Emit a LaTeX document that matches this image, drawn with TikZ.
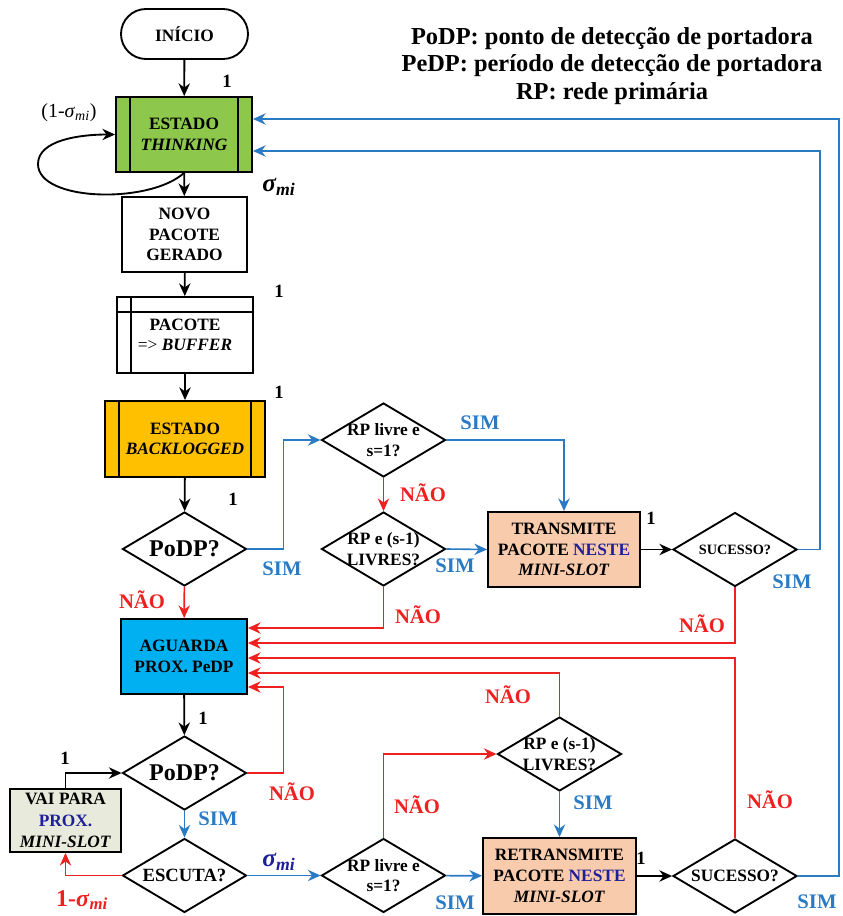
\documentclass[tikz,border=0pt]{standalone}
\usepackage{fontspec}
\setmainfont{Liberation Serif}
\usetikzlibrary{shapes.geometric,arrows.meta,calc}
\definecolor{fcgreen}{HTML}{8DC84C}
\definecolor{fcorange}{HTML}{FFC000}
\definecolor{fcblue}{HTML}{00B0F0}
\definecolor{fcpeach}{HTML}{F8CBAD}
\definecolor{fcgray}{HTML}{E8EBDC}
\definecolor{fcline}{HTML}{2A7AC4}
\definecolor{fcred}{HTML}{EE2020}
\definecolor{fcnavy}{HTML}{1F1F9A}
\tikzset{
  boxtext/.style={font=\fontsize{13}{15.5}\selectfont\bfseries, align=center, inner sep=0pt},
  stepbox/.style={draw, line width=1.4pt, boxtext, minimum width=94pt, minimum height=56.25pt},
  statebox/.style={stepbox, minimum width=102pt},
  terminal/.style={stepbox, rounded corners=18.75pt, minimum width=95.25pt, minimum height=37.5pt},
  decision/.style={diamond, draw, line width=1.4pt, shape aspect=1.68, inner sep=-6pt,
    minimum width=93pt, minimum height=55.5pt, align=center, font=\fontsize{13}{15.5}\selectfont\bfseries},
  boxline/.style={line width=1.4pt},
  flowarrow/.style={-{Stealth[length=9.5pt,width=8.5pt]}, line width=1.4pt},
  yesarrow/.style={-{Stealth[length=9.5pt,width=8.5pt]}, line width=1.2pt, fcline},
  noarrow/.style={-{Stealth[length=9.5pt,width=8.5pt]}, line width=1.2pt, fcred},
  yeslabel/.style={text=fcline, font=\fontsize{15.5}{16}\selectfont\bfseries, inner sep=0pt},
  nolabel/.style={text=fcred, font=\fontsize{15.5}{16}\selectfont\bfseries, inner sep=0pt},
  onelabel/.style={font=\fontsize{14}{15}\selectfont\bfseries, inner sep=0pt},
  siglabel/.style={font=\fontsize{19}{20}\selectfont\bfseries\itshape, inner sep=0pt}
}

\begin{document}
\begin{tikzpicture}[x=0.75pt, y=-0.75pt]
  \useasboundingbox (0,0) rectangle (842,916);

  % Legend
  \node[font=\fontsize{18.3}{20.5}\selectfont\bfseries, align=center] (key) at (612,66)
    {PoDP: ponto de detecção de portadora\\PeDP: período de detecção de portadora\\RP: rede primária};

  % Main column
  \node[terminal] (inicio) at (184.5,34) {INÍCIO};
  \node[statebox, fill=fcgreen] (thinking) at (184,134.5) {ESTADO\\\textit{THINKING}};
  \node[stepbox, minimum width=93.75pt] (novo) at (184.5,234.5) {NOVO\\PACOTE\\GERADO};
  \node[statebox, minimum height=57pt] (buffer) at (185,335) {PACOTE\\{\mdseries =>} \textit{BUFFER}};
  \node[statebox, fill=fcorange, minimum width=120pt, minimum height=57pt] (backlogged) at (185,439) {ESTADO\\\textit{BACKLOGGED}};
  \node[decision, font=\fontsize{18}{20}\selectfont\bfseries] (podp1) at (184.5,549) {PoDP?};
  \node[stepbox, fill=fcblue, minimum width=94.5pt] (aguarda) at (184,656.5) {AGUARDA\\PROX. PeDP};
  \node[decision, font=\fontsize{18}{20}\selectfont\bfseries] (podp2) at (184.5,773) {PoDP?};
  \node[decision, font=\fontsize{14}{15}\selectfont\bfseries] (escuta) at (184.5,875.5) {ESCUTA?};
  \node[stepbox, fill=fcgray, minimum width=83.25pt, minimum height=47.25pt,
    font=\fontsize{13}{16}\selectfont\bfseries] (vai) at (65.5,820.5)
    {VAI PARA\\\textcolor{fcnavy}{PROX.}\\\textit{MINI-SLOT}};

  % Transmission branch
  \node[decision] (rp1) at (383.5,440) {RP livre e\\s=1?};
  \node[decision] (rp2) at (383.5,549) {RP e (s-1)\\LIVRES?};
  \node[stepbox, fill=fcpeach, minimum width=114pt] (transmite) at (564,549.5)
    {TRANSMITE\\PACOTE \textcolor{fcnavy}{NESTE}\\\textit{MINI-SLOT}};
  \node[decision, font=\fontsize{10.7}{12}\selectfont\bfseries] (sucesso1) at (735,549.5) {SUCESSO?};

  % Retransmission branch
  \node[decision] (rp3) at (383.5,875.5) {RP livre e\\s=1?};
  \node[decision] (rp4) at (559.5,754) {RP e (s-1)\\LIVRES?};
  \node[stepbox, fill=fcpeach, minimum width=114.75pt, minimum height=57pt] (retransmite) at (559.5,876)
    {RETRANSMITE\\PACOTE \textcolor{fcnavy}{NESTE}\\\textit{MINI-SLOT}};
  \node[decision] (sucesso2) at (735,876) {SUCESSO?};

  % Inner lines of the state boxes
  \foreach \n in {thinking, backlogged} {
    \draw[boxline] ([xshift=11.25pt]\n.north west) -- ([xshift=11.25pt]\n.south west);
    \draw[boxline] ([xshift=-11.25pt]\n.north east) -- ([xshift=-11.25pt]\n.south east);
  }
  \draw[boxline] ([yshift=-12pt]buffer.north west) -- ([yshift=-12pt]buffer.north east);
  \draw[boxline] ([xshift=11.25pt]buffer.north west) -- ([xshift=11.25pt]buffer.south west);

  % Black arrows
  \draw[flowarrow] (inicio) -- (thinking);
  \draw[flowarrow] (thinking) -- (novo);
  \draw[flowarrow] (novo) -- (buffer);
  \draw[flowarrow] (buffer) -- (backlogged);
  \draw[flowarrow] (backlogged) -- (podp1);
  \draw[flowarrow] (aguarda) -- (podp2);
  \draw[flowarrow] (transmite) -- (sucesso1);
  \draw[flowarrow] (retransmite) -- (sucesso2);
  \draw[flowarrow] (vai.north) |- (podp2.west);
  \draw[flowarrow] (thinking.south) .. controls (150,204) and (38,202) .. (38,164)
    .. controls (38,140) and (80,134.5) .. (thinking.west);

  % Blue arrows (SIM)
  \draw[yesarrow] (podp1.east) -- ++(36,0) |- (rp1.west);
  \draw[yesarrow] (rp1.east) -| (transmite.north);
  \draw[yesarrow] (rp2.east) -- (transmite.west);
  \draw[yesarrow] (sucesso1.east) -- ++(22,0) |- ($(thinking.east)+(0,16.5)$);
  \draw[yesarrow] (sucesso2.east) -- ++(41,0) |- ($(thinking.east)+(0,-15.5)$);
  \draw[yesarrow] (podp2) -- (escuta);
  \draw[yesarrow] (escuta) -- (rp3);
  \draw[yesarrow] (rp3) -- (retransmite);
  \draw[yesarrow] (rp4) -- (retransmite);

  % Red arrows (NAO)
  \draw[noarrow] (podp1) -- (aguarda);
  \draw[noarrow] (rp1) -- (rp2);
  \draw[noarrow] (rp2.south) |- ($(aguarda.east)+(0,-28.5)$);
  \draw[noarrow] (sucesso1.south) |- ($(aguarda.east)+(0,-13.5)$);
  \draw[noarrow] (sucesso2.north) |- ($(aguarda.east)+(0,1.5)$);
  \draw[noarrow] (rp4.north) |- ($(aguarda.east)+(0,16.5)$);
  \draw[noarrow] (podp2.east) -- ++(36,0) |- ($(aguarda.east)+(0,30.5)$);
  \draw[noarrow] (rp3.north) |- (rp4.west);
  \draw[noarrow] (escuta.west) -| (vai.south);

  % Labels
  \node[onelabel] (one1) at (227,81) {1};
  \node[onelabel] (one2) at (279,291) {1};
  \node[onelabel] (one3) at (279,392) {1};
  \node[onelabel] (one4) at (233,499) {1};
  \node[onelabel] (one5) at (651,518) {1};
  \node[onelabel] (one6) at (203,718) {1};
  \node[onelabel] (one7) at (65,758) {1};
  \node[onelabel] (one8) at (641,858) {1};
  \node[font=\fontsize{15}{16}\selectfont, inner sep=0pt] (loop) at (69,113)
    {(1-\textit{σ}\textsubscript{\textit{mi}})};
  \node[siglabel] (sig1) at (279,187) {σ\textsubscript{mi}};
  \node[siglabel, text=fcnavy] (sig2) at (279,862) {σ\textsubscript{mi}};
  \node[siglabel, text=fcred, font=\fontsize{18}{20}\selectfont\bfseries] (sig3) at (82,900)
    {1-\textit{σ}\textsubscript{\textit{mi}}};
  \node[yeslabel] (yes1) at (282,569) {SIM};
  \node[yeslabel] (yes2) at (480,423) {SIM};
  \node[yeslabel] (yes3) at (455,566) {SIM};
  \node[yeslabel] (yes4) at (792,582) {SIM};
  \node[yeslabel] (yes5) at (218,819) {SIM};
  \node[yeslabel] (yes6) at (455,903) {SIM};
  \node[yeslabel] (yes7) at (593,803) {SIM};
  \node[yeslabel] (yes8) at (817,902) {SIM};
  \node[nolabel] (no1) at (142,600) {NÃO};
  \node[nolabel] (no2) at (423,493) {NÃO};
  \node[nolabel] (no3) at (418,615) {NÃO};
  \node[nolabel] (no4) at (702,624) {NÃO};
  \node[nolabel] (no5) at (292,792) {NÃO};
  \node[nolabel] (no6) at (417,805) {NÃO};
  \node[nolabel] (no7) at (508,695) {NÃO};
  \node[nolabel] (no8) at (770,800) {NÃO};
\end{tikzpicture}
\end{document}
